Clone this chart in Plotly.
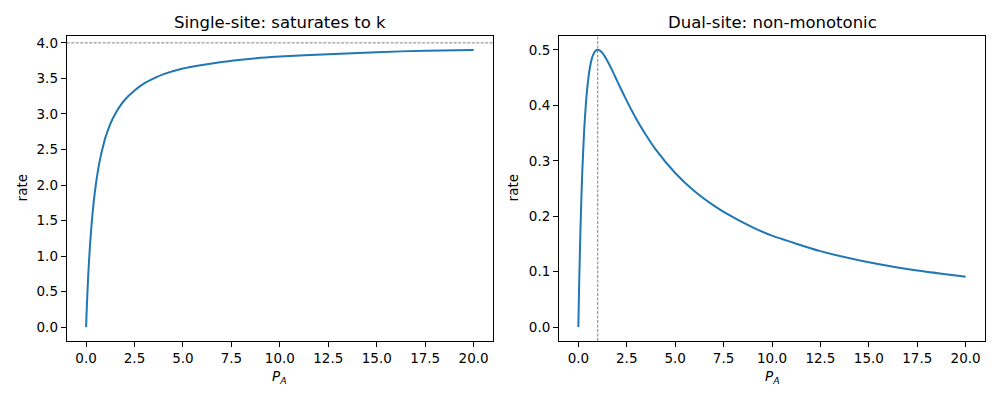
import plotly.graph_objects as go
from plotly.subplots import make_subplots

# values
p_a = [0, 0.025, 0.05, 0.1, 0.15, 0.2, 0.3, 0.4, 0.5, 0.6, 0.75, 0.9, 1, 1.1, 1.25, 1.5, 1.75,
       2, 2.5, 3, 3.5, 4, 5, 6, 7, 7.5, 9, 10, 12.5, 15, 17.5, 20]
rate_single = [0, 0.19, 0.36, 0.67, 0.92, 1.14, 1.5, 1.78, 2.0, 2.18, 2.4, 2.57, 2.67, 2.75, 2.86,
               3.0, 3.11, 3.2, 3.33, 3.43, 3.5, 3.56, 3.64, 3.69, 3.73, 3.75, 3.79, 3.81, 3.84,
               3.87, 3.89, 3.90]
rate_dual = [0, 0.048, 0.091, 0.165, 0.227, 0.278, 0.355, 0.408, 0.444, 0.469, 0.49, 0.499, 0.5,
             0.499, 0.494, 0.48, 0.463, 0.444, 0.408, 0.375, 0.346, 0.32, 0.278, 0.245, 0.219,
             0.208, 0.18, 0.165, 0.137, 0.117, 0.102, 0.091]

k_sat = 4.0        # saturation level (left)
p_peak = 1.0       # peak position (right)

x_ticks = [0, 2.5, 5, 7.5, 10, 12.5, 15, 17.5, 20]
y_ticks_left = [0, 0.5, 1, 1.5, 2, 2.5, 3, 3.5, 4]
y_ticks_right = [0, 0.1, 0.2, 0.3, 0.4, 0.5]

blue = '#1f77b4'
font = 'DejaVu Sans'

fig = make_subplots(rows=1, cols=2)

fig.add_trace(go.Scatter(x=p_a, y=rate_single, mode='lines',
                         line=dict(color=blue, width=2, shape='spline', smoothing=0.5),
                         showlegend=False), row=1, col=1)
fig.add_trace(go.Scatter(x=p_a, y=rate_dual, mode='lines',
                         line=dict(color=blue, width=2, shape='spline', smoothing=0.5),
                         showlegend=False), row=1, col=2)

# reference lines
fig.add_shape(type='line', xref='x domain', yref='y', x0=0, x1=1, y0=k_sat, y1=k_sat,
              line=dict(color='gray', width=1, dash='3px,1.5px'))
fig.add_shape(type='line', xref='x2', yref='y2 domain', x0=p_peak, x1=p_peak, y0=0, y1=1,
              line=dict(color='gray', width=1, dash='3px,1.5px'))

axis_style = dict(showline=True, linecolor='black', linewidth=1, mirror=True,
                  ticks='outside', ticklen=5, tickcolor='black', tickwidth=1,
                  showgrid=False, zeroline=False,
                  tickfont=dict(family=font, size=13.5, color='black'))

fig.update_xaxes(**axis_style, tickvals=x_ticks, tickformat='.1f', range=[-1, 21])
fig.update_yaxes(**axis_style, tickformat='.1f')
fig.update_xaxes(domain=[0.0667, 0.493], row=1, col=1)
fig.update_xaxes(domain=[0.559, 0.985], row=1, col=2)
fig.update_yaxes(domain=[0.1475, 0.91], tickvals=y_ticks_left, range=[-0.195, 4.097], row=1, col=1)
fig.update_yaxes(domain=[0.1475, 0.91], tickvals=y_ticks_right, range=[-0.025, 0.525], row=1, col=2)

# titles and axis labels
texts = [
    ('Single-site: saturates to k', 0.2799, 0.945, 16.5, 0),
    ('Dual-site: non-monotonic', 0.772, 0.945, 16.5, 0),
    ('<i>P</i><sub><i>A</i></sub>', 0.2799, 0.058, 13.5, 0),
    ('<i>P</i><sub><i>A</i></sub>', 0.772, 0.058, 13.5, 0),
    ('rate', 0.022, 0.529, 13.5, -90),
    ('rate', 0.513, 0.529, 13.5, -90),
]
for txt, x, y, size, angle in texts:
    fig.add_annotation(text=txt, x=x, y=y, xref='paper', yref='paper', showarrow=False,
                       textangle=angle, xanchor='center', yanchor='middle',
                       font=dict(family=font, size=size, color='black'))

fig.update_layout(width=1000, height=400, margin=dict(l=0, r=0, t=0, b=0),
                  plot_bgcolor='white', paper_bgcolor='white',
                  font=dict(family=font))

# drop the page's default body margin so the figure sits at the window origin
fig.write_html("out.html", config={'displayModeBar': False},
               post_script="document.body.style.margin='0';document.body.style.overflow='hidden';")
